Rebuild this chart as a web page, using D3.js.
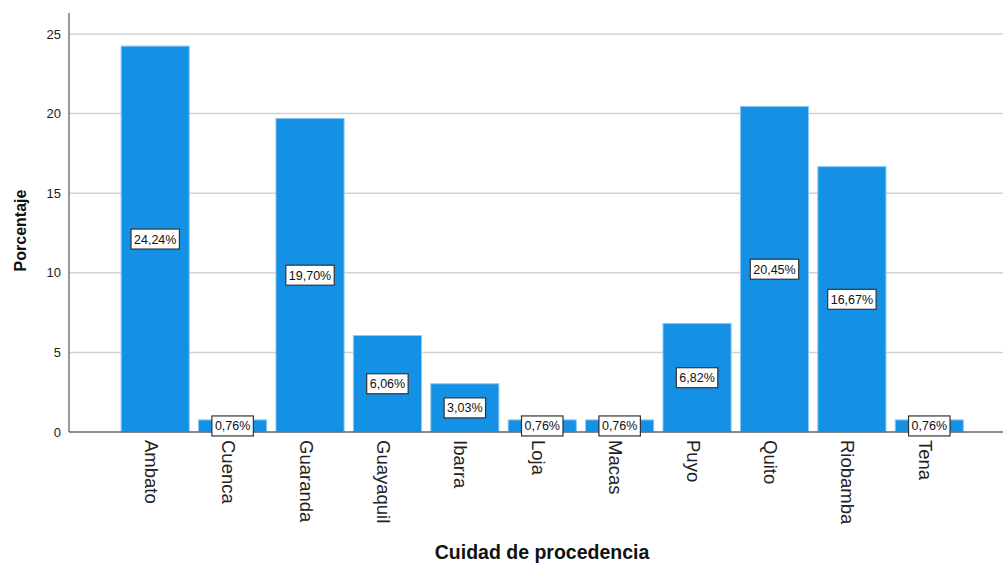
<!DOCTYPE html>
<html>
<head>
<meta charset="utf-8">
<script src="https://cdn.jsdelivr.net/npm/d3@7"></script>
<style>
  html, body { margin: 0; padding: 0; background: #fff; }
  svg { display: block; font-family: "Liberation Sans", Arial, sans-serif; }
</style>
</head>
<body>
<svg id="chart" width="1003" height="564"></svg>
<script>
// City of origin and percentage of respondents
const cities = ["Ambato", "Cuenca", "Guaranda", "Guayaquil", "Ibarra", "Loja", "Macas", "Puyo", "Quito", "Riobamba", "Tena"];
const percents = [24.24, 0.76, 19.70, 6.06, 3.03, 0.76, 0.76, 6.82, 20.45, 16.67, 0.76];
const yTicks = [0, 5, 10, 15, 20, 25];

const svg = d3.select("#chart");
const axisX = 69, plotRight = 1003, baseY = 432, topY = 13;

const y = d3.scaleLinear().domain([0, 25]).range([baseY, 34]);
const x = d3.scaleBand().domain(cities).range([116.5, 968]).paddingInner(0.12).paddingOuter(0.06);

// Horizontal grid lines
svg.append("g").selectAll("line").data(yTicks.filter(d => d > 0)).join("line")
  .attr("x1", axisX).attr("x2", plotRight)
  .attr("y1", d => y(d)).attr("y2", d => y(d))
  .attr("stroke", "#d2d2d2").attr("stroke-width", 1.5);

// Bars
svg.append("g").selectAll("rect").data(cities).join("rect")
  .attr("x", d => x(d))
  .attr("width", x.bandwidth())
  .attr("y", (d, i) => y(percents[i]))
  .attr("height", (d, i) => baseY - y(percents[i]))
  .attr("fill", "#1490e5")
  .attr("stroke", "#8cc8f3").attr("stroke-width", 1);

// Axes
const yAxis = d3.axisLeft(y).tickValues(yTicks).tickSize(0).tickPadding(8).tickFormat(d3.format("d"));
const gy = svg.append("g").attr("transform", `translate(${axisX},0)`).call(yAxis);
gy.select(".domain").remove();
gy.selectAll("text").attr("font-size", 13).attr("fill", "#222").attr("font-family", "Liberation Sans, Arial, sans-serif");

svg.append("line").attr("x1", axisX).attr("x2", axisX).attr("y1", topY).attr("y2", baseY)
  .attr("stroke", "#777").attr("stroke-width", 1.5);
svg.append("line").attr("x1", axisX).attr("x2", plotRight).attr("y1", baseY).attr("y2", baseY)
  .attr("stroke", "#666").attr("stroke-width", 1.5);

// Category labels, rotated
svg.append("g").selectAll("text").data(cities).join("text")
  .attr("transform", d => `translate(${x(d) + x.bandwidth() / 2 - 4},440) rotate(90)`)
  .attr("dy", "0.35em")
  .attr("text-anchor", "start")
  .attr("font-size", 18.5)
  .attr("fill", "#222")
  .text(d => d);

// Value labels in boxes at mid-height of each bar
const labels = svg.append("g").selectAll("g").data(cities).join("g")
  .attr("transform", (d, i) => `translate(${x(d) + x.bandwidth() / 2},${y(percents[i] / 2)})`);
labels.append("text")
  .attr("text-anchor", "middle").attr("dy", "0.36em")
  .attr("font-size", 12.5).attr("fill", "#111")
  .text((d, i) => percents[i].toFixed(2).replace(".", ",") + "%");
labels.each(function () {
  const g = d3.select(this);
  const bb = g.select("text").node().getBBox();
  g.insert("rect", "text")
    .attr("x", bb.x - 3).attr("y", -10)
    .attr("width", bb.width + 6).attr("height", 20)
    .attr("fill", "#fff").attr("stroke", "#333").attr("stroke-width", 1.2);
});

// Axis titles
svg.append("text")
  .attr("transform", `translate(26,${(topY + baseY) / 2 + 8}) rotate(-90)`)
  .attr("text-anchor", "middle").attr("font-size", 16).attr("font-weight", "bold").attr("fill", "#111")
  .text("Porcentaje");
svg.append("text")
  .attr("x", 542).attr("y", 559)
  .attr("text-anchor", "middle").attr("font-size", 19.5).attr("font-weight", "bold").attr("fill", "#111")
  .text("Cuidad de procedencia");
</script>
</body>
</html>
